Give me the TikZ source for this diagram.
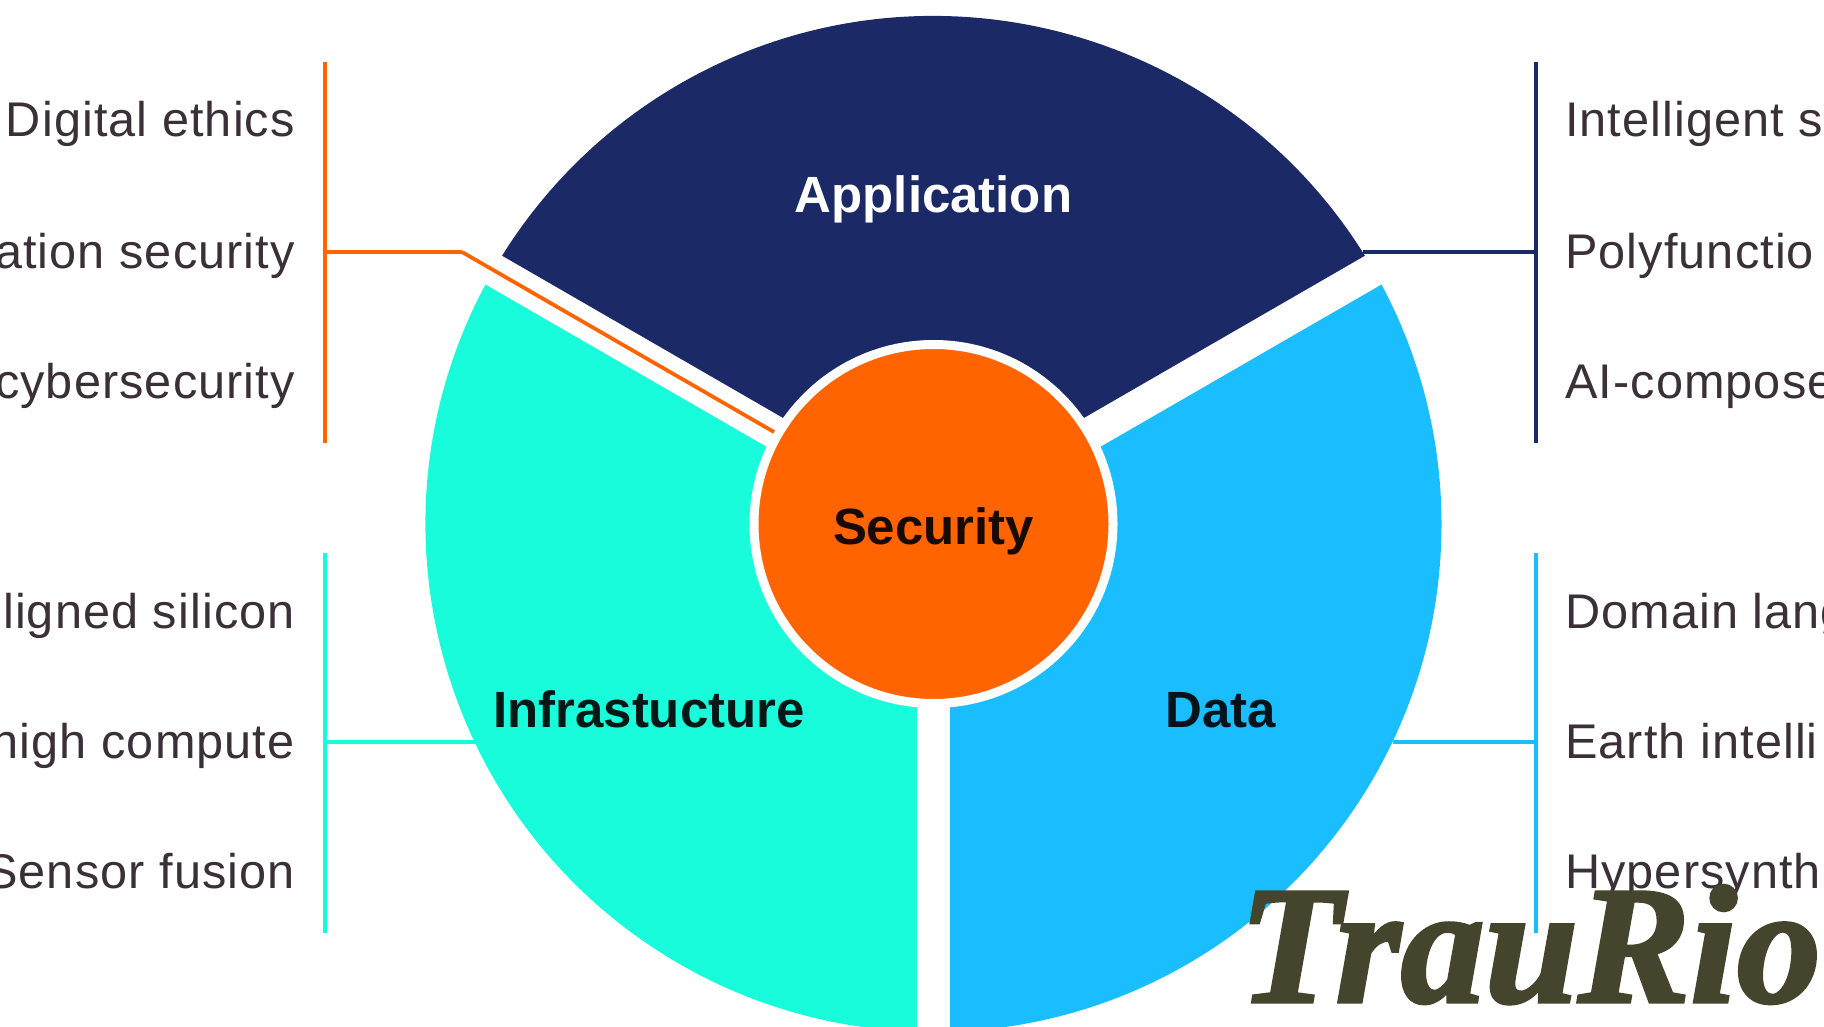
\documentclass[tikz,border=0pt]{standalone}
\usepackage{fontspec}
\setmainfont{Liberation Sans}
\newfontfamily\wmfont[FakeBold=2]{Liberation Serif}
\definecolor{navy}{HTML}{1B2A66}
\definecolor{mint}{HTML}{19FCDC}
\definecolor{sky}{HTML}{1ABEFF}
\definecolor{secorange}{HTML}{FF6400}
\definecolor{txt}{HTML}{3A3036}
\definecolor{wmark}{HTML}{45452E}
\tikzset{
  item/.style={font=\fontsize{36.5pt}{40pt}\selectfont\addfontfeature{LetterSpace=2.2},text=txt,inner sep=0pt},
  leftitem/.style={item,anchor=base east},
  rightitem/.style={item,anchor=base west},
  sector/.style={draw=none},
  gap/.style={draw=white,line width=24.75pt},
  head/.style={font=\fontsize{38.2pt}{40pt}\selectfont\bfseries,inner sep=0pt,anchor=base},
  link/.style={line width=2.8pt},
  branch/.style={line width=3.6pt},
  hub/.style={circle,fill=secorange,draw=white,line width=6.75pt,minimum size=269.25pt,inner sep=0pt},
}
\begin{document}
\begin{tikzpicture}[x=0.75pt,y=0.75pt]
\useasboundingbox[fill=white] (0,0) rectangle (1824,1026);
\begin{scope}
\clip (0,0) rectangle (1824,1026);
\coordinate (c) at (933.5,502);
% sectors
\fill[navy,sector] (c) -- ++(30:381pt) arc[start angle=30,end angle=150,radius=381pt] -- cycle;
\fill[mint,sector] (c) -- ++(150:381pt) arc[start angle=150,end angle=270,radius=381pt] -- cycle;
\fill[sky,sector] (c) -- ++(270:381pt) arc[start angle=270,end angle=390,radius=381pt] -- cycle;
\draw[gap] (c) -- ++(30:400pt);
\draw[gap] (c) -- ++(150:400pt);
\draw[gap] (c) -- ++(270:400pt);
\node[hub] (sec) at (c) {};
\node[head,text=black!90!secorange] (seclabel) at (933.5,482) {Security};
\node[head,text=white] (app) at (933.5,813) {Application};
\node[head,text=black!90!mint] (infra) at (649,299) {Infrastucture};
\node[head,text=black!90!sky] (data) at (1221,299) {Data};
% brackets
\coordinate (ot) at (325,964);
\coordinate (om) at (325,774);
\coordinate (ob) at (325,583);
\coordinate (oc) at (462,774);
\coordinate (nt) at (1536,964);
\coordinate (nm) at (1536,774);
\coordinate (nb) at (1536,583);
\coordinate (ne) at (1363,774);
\coordinate (mt) at (325,473);
\coordinate (mm) at (325,284);
\coordinate (mb) at (325,93);
\coordinate (me) at (476,284);
\coordinate (st) at (1536,473);
\coordinate (sm) at (1536,284);
\coordinate (sb) at (1536,93);
\coordinate (se) at (1393,284);
\draw[link,secorange] (ot) -- (ob);
\draw[branch,secorange] (om) -- (oc);
\draw[link,secorange] (oc) -- (sec);
\draw[link,navy] (nt) -- (nb);
\draw[branch,navy] (nm) -- (ne);
\draw[link,mint] (mt) -- (mb);
\draw[branch,mint] (mm) -- (me);
\draw[link,sky] (st) -- (sb);
\draw[branch,sky] (sm) -- (se);
% left items
\node[leftitem] (l1) at (295,889) {Digital ethics};
\node[leftitem] (l2) at (295,757) {ation security};
\node[leftitem] (l3) at (295,627) {cybersecurity};
\node[leftitem] (l4) at (295,398) {ligned silicon};
\node[leftitem] (l5) at (295,268) {high compute};
\node[leftitem] (l6) at (295,138) {Sensor fusion};
% right items
\node[rightitem] (r1) at (1565,889) {Intelligent s};
\node[rightitem] (r2) at (1565,757) {Polyfunctio};
\node[rightitem] (r3) at (1565,627) {AI-compose};
\node[rightitem] (r4) at (1565,398) {Domain lang};
\node[rightitem] (r5) at (1565,268) {Earth intelli};
\node[rightitem] (r6) at (1565,138) {Hypersynth};
% watermark
\node[font=\wmfont\fontsize{126pt}{126pt}\selectfont\bfseries\itshape,text=wmark,inner sep=0pt,anchor=base] (wm) at (1530,24) {TrauRio};
\end{scope}
\end{tikzpicture}
\end{document}
